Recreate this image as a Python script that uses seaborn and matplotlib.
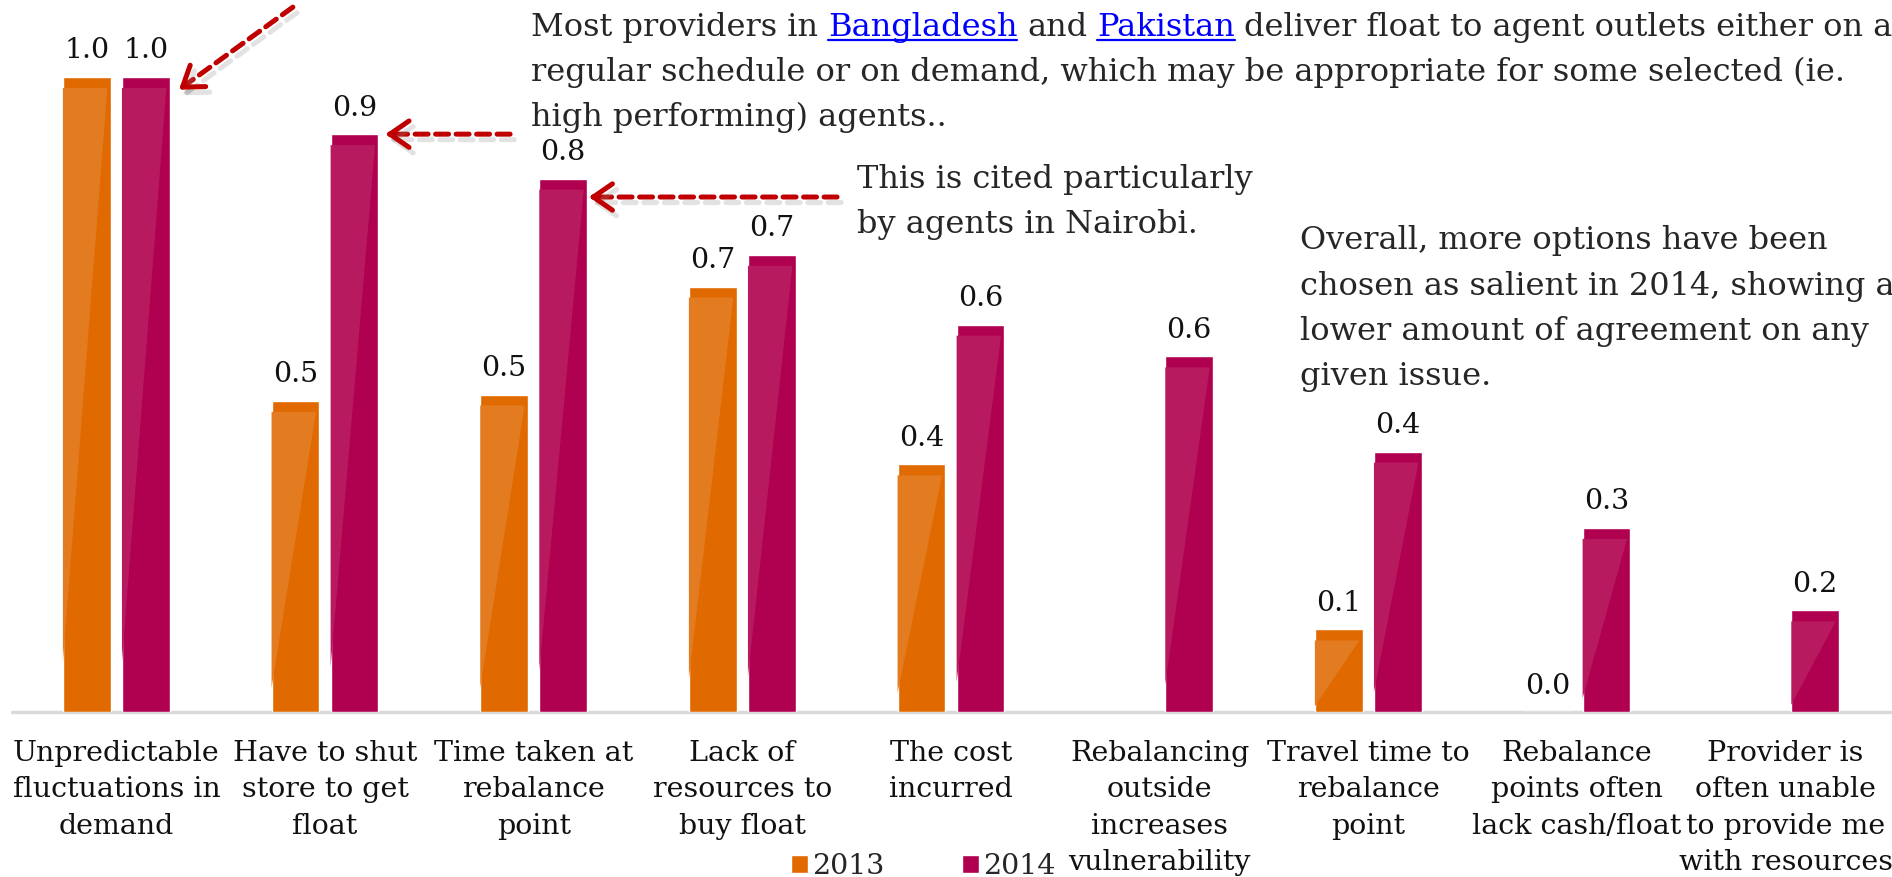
import numpy as np
import pandas as pd
import matplotlib
matplotlib.use("Agg")
import matplotlib.pyplot as plt
import matplotlib.patheffects as pe
from matplotlib.patches import Polygon
from matplotlib.lines import Line2D
from matplotlib.transforms import IdentityTransform
import seaborn as sns

# ---------------- data ----------------
categories = [
    "Unpredictable\nfluctuations in\ndemand",
    "Have to shut\nstore to get\nfloat",
    "Time taken at\nrebalance\npoint",
    "Lack of\nresources to\nbuy float",
    "The cost\nincurred",
    "Rebalancing\noutside\nincreases\nvulnerability",
    "Travel time to\nrebalance\npoint",
    "Rebalance\npoints often\nlack cash/float",
    "Provider is\noften unable\nto provide me\nwith resources",
]
years = ["2013", "2014"]
values_2013 = [1.0, 0.49, 0.50, 0.67, 0.39, np.nan, 0.13, 0.0, np.nan]
values_2014 = [1.0, 0.91, 0.84, 0.72, 0.61, 0.56, 0.41, 0.29, 0.16]

note1_segments = ["Most providers in", "Bangladesh", "and", "Pakistan",
                  "deliver float to agent outlets either on a"]
note1_links = [False, True, False, True, False]
note1_rest = ["regular schedule or on demand, which may be appropriate for some selected (ie.",
              "high performing) agents.."]
note2 = ["This is cited particularly", "by agents in Nairobi."]
note3 = ["Overall, more options have been", "chosen as salient in 2014, showing a",
         "lower amount of agreement on any", "given issue."]

# arrow pointers (data coords: tail -> tip)
arrow_tails = [(0.846, 1.11), (1.887, 0.91), (3.454, 0.811)]
arrow_tips = [(0.30, 0.98), (1.29, 0.91), (2.265, 0.811)]

colors = {"2013": "#E06900", "2014": "#B00050"}
gloss = {"2013": "#E37B20", "2014": "#B81A60"}
RED = "#C00000"
TXT = "#262626"

df = pd.DataFrame({
    "category": categories * 2,
    "year": ["2013"] * len(categories) + ["2014"] * len(categories),
    "value": values_2013 + values_2014,
}).dropna()

sns.set_theme(style="white")
plt.rcParams["font.family"] = ["DejaVu Serif"]

W, H = 1892, 877
fig = plt.figure(figsize=(W / 100, H / 100), dpi=100)
ax = fig.add_axes([12 / W, (H - 712) / H, 1878 / W, 635 / H])

sns.barplot(data=df, x="category", y="value", hue="year", order=categories,
            hue_order=years, palette=colors, width=0.566, gap=0.19,
            errorbar=None, saturation=1, ax=ax, legend=True)

ax.set_xlim(-0.5, 8.5)
ax.set_ylim(0, 1.0)
ax.set_yticks([])
ax.set_xlabel("")
ax.set_ylabel("")
for s in ax.spines.values():
    s.set_visible(False)
ax.axhline(0, color="#D9D9D9", lw=2.5, zorder=0.5, clip_on=False)
ax.tick_params(axis="x", length=0, pad=20, labelsize=20.5, labelcolor="#111111")
ax.set_xticks(range(len(categories)))
ax.set_xticklabels(categories, linespacing=1.45)

# gloss overlay on bars
cap = 11 / 635.0
for cont, yr in zip(ax.containers, years):
    for bar in cont:
        h = bar.get_height()
        if not np.isfinite(h) or h <= 0:
            continue
        x0, w = bar.get_x(), bar.get_width()
        yc = h - cap
        poly = Polygon([(x0, yc), (x0 + 0.93 * w, yc), (x0, 0.08 * yc)],
                       closed=True, facecolor=gloss[yr], edgecolor="none",
                       zorder=bar.get_zorder() + 0.1)
        ax.add_patch(poly)
    ax.bar_label(cont, fmt="%.1f", padding=9, fontsize=20.5, color="#111111")

# legend
handles, labels = ax.get_legend_handles_labels()
ax.get_legend().remove()
fig.legend(handles, labels, loc="upper left", bbox_to_anchor=(791 / W, (H - 853) / H),
           ncol=2, frameon=False, handlelength=0.6, handleheight=0.6,
           handletextpad=0.15, columnspacing=2.7, borderpad=0, borderaxespad=0,
           fontsize=20.5)

# annotations
def fx(x):
    return x / W

def fy(y):
    return (H - y) / H

ann_size = 23
space_pt = 7
t = fig.text(fx(531), fy(36), note1_segments[0], fontsize=ann_size, color=TXT, va="baseline")
seg_artists = [t]
for seg, is_link in zip(note1_segments[1:], note1_links[1:]):
    t = ax.annotate(seg, xy=(1, 0), xycoords=t, xytext=(space_pt, 0),
                    textcoords="offset points", va="bottom", ha="left",
                    fontsize=ann_size, color="#0000FF" if is_link else TXT,
                    annotation_clip=False)
    seg_artists.append(t)
for i, line in enumerate(note1_rest):
    fig.text(fx(531), fy(81 + 45 * i), line, fontsize=ann_size, color=TXT, va="baseline")
for i, line in enumerate(note2):
    fig.text(fx(857), fy(188 + 45 * i), line, fontsize=ann_size, color=TXT, va="baseline")
for i, line in enumerate(note3):
    fig.text(fx(1300), fy(249 + 45.5 * i), line, fontsize=ann_size, color=TXT, va="baseline")

shadow = [pe.SimpleLineShadow(offset=(3, -4), shadow_color="#8c8c8c", alpha=0.25), pe.Normal()]
for tail, tip in zip(arrow_tails, arrow_tips):
    tail = np.array(tail)
    tip = np.array(tip)
    ax.annotate("", xy=tip, xytext=tail, annotation_clip=False,
                arrowprops=dict(arrowstyle="-", lw=3.6, color=RED,
                                linestyle=(0, (2.6, 1.5)), shrinkA=0, shrinkB=4,
                                path_effects=shadow))
    near = tip + 0.04 * (tail - tip) / np.linalg.norm(tail - tip)
    ax.annotate("", xy=tip, xytext=near, annotation_clip=False,
                arrowprops=dict(arrowstyle="->,head_length=0.55,head_width=0.38",
                                mutation_scale=25, lw=3.6, color=RED,
                                shrinkA=0, shrinkB=0, path_effects=shadow))

fig.canvas.draw()
r = fig.canvas.get_renderer()
for art, is_link in zip(seg_artists, note1_links):
    if is_link:
        bb = art.get_window_extent(r)
        fig.add_artist(Line2D([bb.x0, bb.x1], [H - 36 - 4] * 2, color="#0000FF",
                              lw=1.6, transform=IdentityTransform()))

fig.savefig("out.png", dpi=100)
